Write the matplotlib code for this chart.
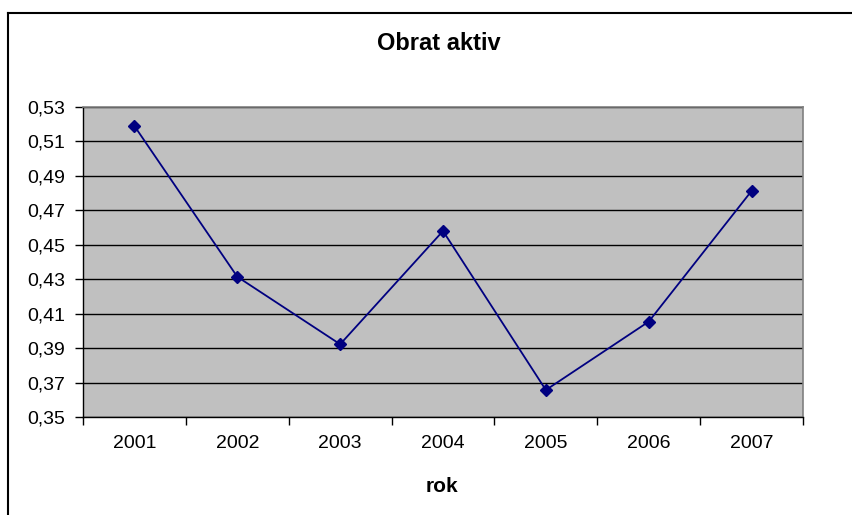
import matplotlib
matplotlib.use("Agg")
import matplotlib.pyplot as plt
from matplotlib.lines import Line2D
from matplotlib.ticker import FixedLocator, FuncFormatter

years = ["2001", "2002", "2003", "2004", "2005", "2006", "2007"]
values = [0.5187, 0.4314, 0.3923, 0.4579, 0.3658, 0.4054, 0.4811]
yticks = [0.35, 0.37, 0.39, 0.41, 0.43, 0.45, 0.47, 0.49, 0.51, 0.53]
title = "Obrat aktiv"
xlabel = "rok"

plt.rcParams['font.family'] = ['Liberation Sans', 'DejaVu Sans']

W, H = 853, 515
fig = plt.figure(figsize=(W / 100, H / 100), dpi=100)
ax = fig.add_axes([83 / W, 1 - 417.3 / H, (803 - 83) / W, (417.3 - 106.5) / H])
ax.set_facecolor("#C0C0C0")

x = list(range(len(years)))
ax.plot(x, values, color="#000080", linewidth=1.3, marker="D", markersize=6.5,
        markerfacecolor="#000080", markeredgecolor="#000080", zorder=3)

ax.set_xlim(-0.5, len(years) - 0.5)
ax.set_ylim(yticks[0], yticks[-1])
ax.set_yticks(yticks)
ax.yaxis.set_major_formatter(FuncFormatter(lambda v, p: f"{v:.2f}".replace(".", ",")))
ax.grid(axis="y", color="black", linewidth=1.0, zorder=1)

ax.xaxis.set_major_locator(FixedLocator([i - 0.5 for i in range(len(years) + 1)]))
ax.xaxis.set_major_formatter(FuncFormatter(lambda v, p: ""))
ax.xaxis.set_minor_locator(FixedLocator(x))
ax.set_xticklabels(years, minor=True)
ax.tick_params(axis="x", which="minor", length=0, pad=13, labelsize=14)
ax.tick_params(axis="x", which="major", length=6, width=1, color="black")
ax.tick_params(axis="y", length=6, width=1, labelsize=14, pad=7)

for s in ["top", "right"]:
    ax.spines[s].set_color("#808080")
    ax.spines[s].set_linewidth(1.2)
for s in ["left", "bottom"]:
    ax.spines[s].set_color("black")
    ax.spines[s].set_linewidth(1.0)

fig.text(439 / W, 1 - 44 / H, title, ha="center", va="center", fontsize=17, fontweight="bold")
fig.text(442 / W, 1 - 486 / H, xlabel, ha="center", va="center", fontsize=15, fontweight="bold")

# outer chart border (top and left visible)
fig.add_artist(Line2D([8 / W, 1.0], [1 - 13 / H, 1 - 13 / H], color="black", linewidth=1.5, transform=fig.transFigure))
fig.add_artist(Line2D([8 / W, 8 / W], [0, 1 - 13 / H], color="black", linewidth=1.5, transform=fig.transFigure))

fig.savefig("out.png", dpi=100)
